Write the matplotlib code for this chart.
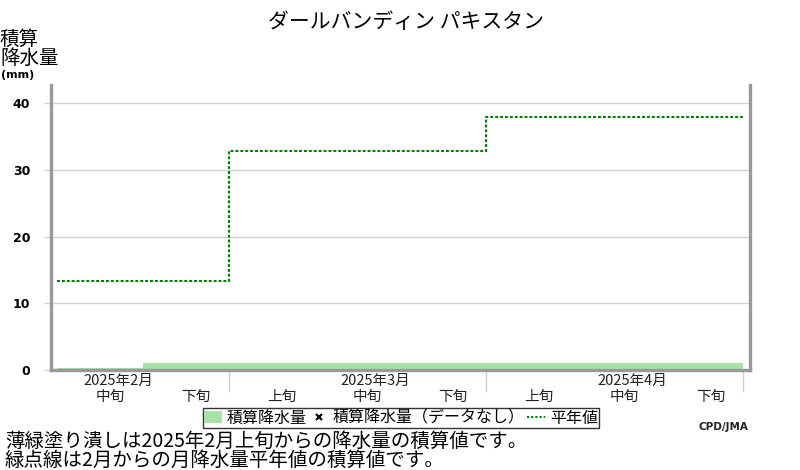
import matplotlib
matplotlib.use("Agg")
import matplotlib.pyplot as plt
from matplotlib.patches import Patch
from matplotlib.lines import Line2D
from matplotlib.transforms import blended_transform_factory

plt.rcParams['font.family'] = ['Noto Sans CJK JP', 'DejaVu Sans']

# ---- data ----
title = "ダールバンディン パキスタン"
dekad_labels = ["中旬", "下旬", "上旬", "中旬", "下旬", "上旬", "中旬", "下旬"]
month_labels = ["2025年2月", "2025年3月", "2025年4月"]
month_label_dekad = [0, 3, 6]          # dekad index of 中旬 of each month
cum_precip = [0.3, 1.0, 1.0, 1.0, 1.0, 1.0, 1.0, 1.0]   # cumulative precipitation (mm) per dekad
month_edges = [0, 2, 5, 8]             # dekad boundaries of months
normal_cum = [13.4, 32.9, 38.0]        # cumulative monthly normal (mm)
yticks = [0, 10, 20, 30, 40]

W, H = 800, 470
fig = plt.figure(figsize=(W / 100, H / 100), dpi=100)

x0px, px_per_dekad = 57, 85.75
left_px, right_px, top_px, bot_px = 51, 750, 85, 370
ax = fig.add_axes([left_px / W, 1 - bot_px / H, (right_px - left_px) / W, (bot_px - top_px) / H])
ax.set_xlim((left_px - x0px) / px_per_dekad, (right_px - x0px) / px_per_dekad)
ymax = (bot_px - top_px) / 6.67
ax.set_ylim(0, ymax)

# bars
centers = [i + 0.5 for i in range(len(cum_precip))]
ax.bar(centers, cum_precip, width=1.0, color="#a8e2a8", edgecolor="none", zorder=2)

# normal step line
ax.stairs(normal_cum, month_edges, baseline=None, color="#008000", linewidth=1.5,
          linestyle=(0, (1.4, 0.95)), zorder=3)

# grid / spines
ax.set_yticks(yticks)
ax.yaxis.grid(True, color="#d0d0d0", linewidth=1.0, zorder=0)
ax.set_axisbelow(True)
ax.tick_params(axis='y', length=5, color="#d0d0d0", width=1.0, pad=10, labelsize=9)
for lab in ax.get_yticklabels():
    lab.set_fontfamily('DejaVu Sans')
    lab.set_fontweight('bold')
ax.set_xticks([])
for s in ["left", "right", "bottom"]:
    ax.spines[s].set_color("#999999")
    ax.spines[s].set_linewidth(2.4)
ax.spines["top"].set_visible(False)

trans = blended_transform_factory(ax.transData, ax.transAxes)
# month boundary tick lines below axis
for e in month_edges[1:]:
    ax.plot([e, e], [0, -0.075], transform=trans, color="#d0d0d0", linewidth=1.0, clip_on=False)

# labels under axis
for i, lab in enumerate(dekad_labels):
    ax.text(i + 0.62, -0.096, lab, transform=trans, ha="center", va="center", fontsize=10.5, color="#222222")
for d, lab in zip(month_label_dekad, month_labels):
    ax.text(d + 0.71, -0.037, lab, transform=trans, ha="center", va="center", fontsize=10.5, color="#222222")

# title
fig.text(406 / W, 1 - 22 / H, title, ha="center", va="center", fontsize=15)

# y label
fig.text(0, 1 - 39 / H, "積算", ha="left", va="center", fontsize=14)
fig.text(0, 1 - 58 / H, "降水量", ha="left", va="center", fontsize=14)
fig.text(1 / W, 1 - 75.5 / H, "(mm)", ha="left", va="center", fontsize=8, fontweight="bold",
         family=['DejaVu Sans'])

# legend
handles = [
    Patch(facecolor="#a8e2a8", edgecolor="none"),
    Line2D([], [], marker="x", color="black", linestyle="none", markersize=4.5, markeredgewidth=1.5),
    Line2D([], [], color="#008000", linewidth=1.5, linestyle=(0, (1.0, 1.0))),
]
labels = ["積算降水量", "積算降水量（データなし）", "平年値"]
leg = fig.legend(handles, labels, loc="center", bbox_to_anchor=(401 / W, 1 - 418 / H), ncol=3,
                 fontsize=11.5, frameon=True, fancybox=False, edgecolor="black",
                 handlelength=1.1, handletextpad=0.3, columnspacing=0.2, borderpad=0.1,
                 borderaxespad=0)
leg.get_frame().set_linewidth(1.0)

# notes
fig.text(5 / W, 1 - 441 / H, "薄緑塗り潰しは2025年2月上旬からの降水量の積算値です。", ha="left", va="center", fontsize=14)
fig.text(5 / W, 1 - 460 / H, "緑点線は2月からの月降水量平年値の積算値です。", ha="left", va="center", fontsize=14)
fig.text(748 / W, 1 - 427 / H, "CPD/JMA", ha="right", va="center", fontsize=7.5, fontweight="bold",
         family=['DejaVu Sans'], color="#222222")

fig.savefig("out.png", dpi=100)
